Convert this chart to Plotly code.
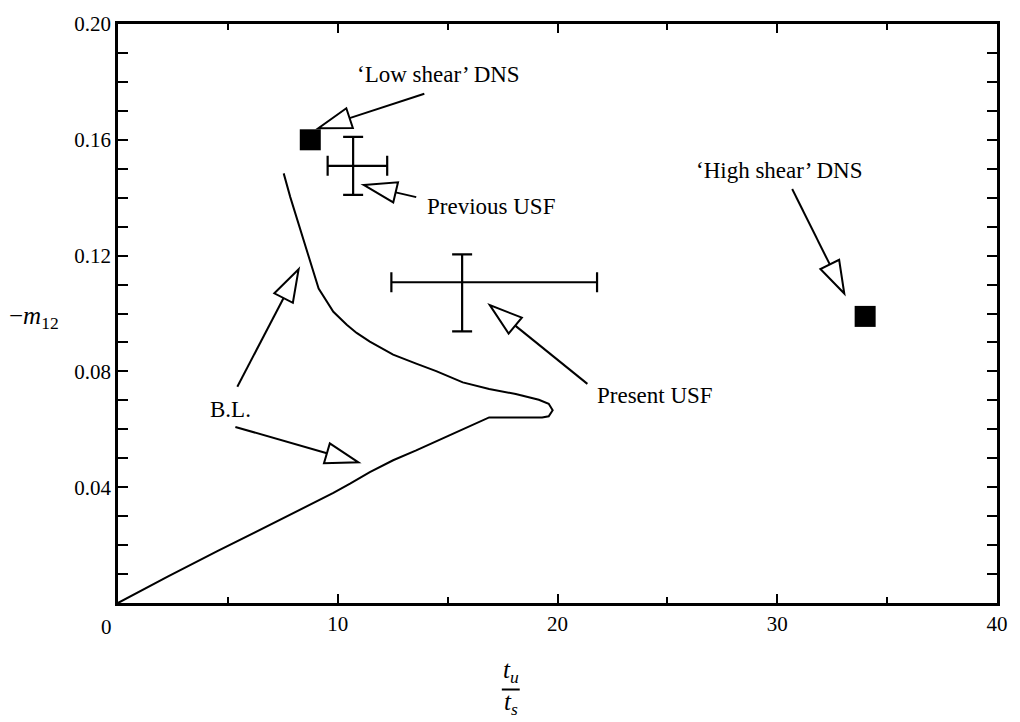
import math
import plotly.graph_objects as go

# ---------------- data ----------------
bl_x = [0.0, 2.26, 4.52, 6.03, 7.54, 8.75, 9.8, 10.56, 11.46, 12.52, 13.57, 15.08, 16.59, 16.89,
        18.1, 19.3, 19.6, 19.78, 19.6, 19.15, 18.1, 16.89, 15.69, 14.48, 13.57, 12.52, 11.46,
        10.86, 10.41, 9.8, 9.13, 8.67, 8.45, 8.22, 7.84, 7.54]
bl_y = [0.0, 0.0091, 0.0179, 0.0236, 0.0293, 0.0338, 0.0380, 0.0412, 0.0452, 0.0493, 0.0527, 0.0579, 0.0632, 0.0641,
        0.0641, 0.0641, 0.0645, 0.0666, 0.0688, 0.0702, 0.0722, 0.0739, 0.0762, 0.0801, 0.0827, 0.0858, 0.0903,
        0.0933, 0.0961, 0.1006, 0.1086, 0.1198, 0.1255, 0.1311, 0.1402, 0.1484]

dns_x = [8.75, 34.0]
dns_y = [0.160, 0.099]

usf_x = [10.7, 15.66]
usf_y = [0.151, 0.1108]
usf_x_minus = [1.16, 3.22]
usf_x_plus = [1.55, 6.14]
usf_y_minus = [0.010, 0.017]
usf_y_plus = [0.010, 0.0096]

x_tick_vals = [10, 20, 30, 40]
x_tick_text = ["10", "20", "30", "40"]
x_minor_vals = [5, 15, 25, 35]
y_tick_vals = [0.04, 0.08, 0.12, 0.16, 0.20]
y_tick_text = ["0.04", "0.08", "0.12", "0.16", "0.20"]
y_minor_vals = [0.01, 0.02, 0.03, 0.05, 0.06, 0.07, 0.09, 0.10, 0.11, 0.13, 0.14, 0.15, 0.17, 0.18, 0.19]

labels = ["\u2018Low shear\u2019 DNS", "Previous USF", "Present USF", "B.L.", "\u2018High shear\u2019 DNS"]
label_x = [14.57, 13.98, 21.72, 5.11, 30.11]
label_y = [0.1827, 0.1368, 0.0716, 0.0670, 0.1494]
label_anchor = ["center", "left", "left", "center", "center"]

# arrows: tail -> tip (data coordinates)
arrow_tail_x = [13.94, 13.57, 21.36, 5.43, 5.34, 30.68]
arrow_tail_y = [0.1759, 0.1402, 0.0757, 0.0747, 0.0608, 0.1430]
arrow_tip_x = [9.12, 11.18, 16.92, 8.22, 10.94, 33.05]
arrow_tip_y = [0.1640, 0.1444, 0.1029, 0.1153, 0.0486, 0.1069]

# ---------------- layout geometry ----------------
W, H = 1020, 722
ML, MR, MT, MB = 118, 18, 14, 119
XR = [0, 40]
YR = [0, 0.20]
PW, PH = W - ML - MR, H - MT - MB


def d2p(x, y):
    return (ML + (x - XR[0]) / (XR[1] - XR[0]) * PW,
            MT + PH - (y - YR[0]) / (YR[1] - YR[0]) * PH)


def p2d(px, py):
    return (XR[0] + (px - ML) / PW * (XR[1] - XR[0]),
            YR[0] + (MT + PH - py) / PH * (YR[1] - YR[0]))


def p2paper(px, py):
    return ((px - ML) / PW, (MT + PH - py) / PH)


FONT = "Liberation Serif"

fig = go.Figure()

fig.add_trace(go.Scatter(x=bl_x, y=bl_y, mode="lines",
                         line=dict(color="black", width=2), showlegend=False, hoverinfo="skip"))

fig.add_trace(go.Scatter(
    x=usf_x, y=usf_y, mode="markers", marker=dict(size=1, color="black"), showlegend=False,
    error_x=dict(type="data", symmetric=False, array=usf_x_plus, arrayminus=usf_x_minus,
                 color="black", thickness=2.2, width=10),
    error_y=dict(type="data", symmetric=False, array=usf_y_plus, arrayminus=usf_y_minus,
                 color="black", thickness=2.2, width=10),
))

fig.add_trace(go.Scatter(x=dns_x, y=dns_y, mode="markers",
                         marker=dict(symbol="square", size=21, color="black"), showlegend=False))

shapes = []
HEAD_LEN, HEAD_HALF = 33, 10.5
for tx, ty, hx, hy in zip(arrow_tail_x, arrow_tail_y, arrow_tip_x, arrow_tip_y):
    tpx, tpy = d2p(tx, ty)
    hpx, hpy = d2p(hx, hy)
    dx, dy = tpx - hpx, tpy - hpy
    L = math.hypot(dx, dy)
    ux, uy = dx / L, dy / L
    bx, by = hpx + ux * HEAD_LEN, hpy + uy * HEAD_LEN
    c1 = (bx - uy * HEAD_HALF, by + ux * HEAD_HALF)
    c2 = (bx + uy * HEAD_HALF, by - ux * HEAD_HALF)
    b_d = p2d(bx, by)
    shapes.append(dict(type="line", xref="x", yref="y", x0=tx, y0=ty, x1=b_d[0], y1=b_d[1],
                       line=dict(color="black", width=2)))
    pts = [p2d(hpx, hpy), p2d(*c1), p2d(*c2)]
    path = "M %f,%f L %f,%f L %f,%f Z" % (pts[0][0], pts[0][1], pts[1][0], pts[1][1], pts[2][0], pts[2][1])
    shapes.append(dict(type="path", xref="x", yref="y", path=path, fillcolor="white",
                       line=dict(color="black", width=2)))

# fraction bar of x-axis label
fx0, fy = p2paper(504, 691)
fx1, _ = p2paper(522, 691)
shapes.append(dict(type="line", xref="paper", yref="paper", x0=fx0, x1=fx1, y0=fy, y1=fy,
                   line=dict(color="black", width=2)))

annotations = []
for t, x, y, a in zip(labels, label_x, label_y, label_anchor):
    annotations.append(dict(text=t, x=x, y=y, xref="x", yref="y", showarrow=False,
                            xanchor=a, yanchor="middle", font=dict(family=FONT, size=23, color="black")))

# axis titles
yx, yy = p2paper(34, 313)
annotations.append(dict(text="\u2212<i>m</i><sub>12</sub>", x=yx, y=yy, xref="paper", yref="paper",
                        showarrow=False, xanchor="center", yanchor="middle",
                        font=dict(family=FONT, size=25, color="black")))
tx1, ty1 = p2paper(513, 673)
annotations.append(dict(text="<i>t</i><sub><i>u</i></sub>", x=tx1, y=ty1, xref="paper", yref="paper",
                        showarrow=False, xanchor="center", yanchor="middle",
                        font=dict(family=FONT, size=25, color="black")))
tx2, ty2 = p2paper(513, 705)
annotations.append(dict(text="<i>t</i><sub><i>s</i></sub>", x=tx2, y=ty2, xref="paper", yref="paper",
                        showarrow=False, xanchor="center", yanchor="middle",
                        font=dict(family=FONT, size=25, color="black")))
zx, zy = p2paper(106, 627)
annotations.append(dict(text="0", x=zx, y=zy, xref="paper", yref="paper", showarrow=False,
                        xanchor="center", yanchor="middle", font=dict(family=FONT, size=21, color="black")))

fig.update_layout(
    width=W, height=H,
    margin=dict(l=ML, r=MR, t=MT, b=MB, pad=0),
    plot_bgcolor="white", paper_bgcolor="white",
    font=dict(family=FONT, size=21, color="black"),
    shapes=shapes, annotations=annotations, showlegend=False,
    xaxis=dict(range=XR, tickvals=x_tick_vals, ticktext=x_tick_text, ticks="inside", ticklen=9,
               tickwidth=2, tickcolor="black", showline=True, linecolor="black", linewidth=2.5,
               mirror="allticks", showgrid=False, zeroline=False,
               minor=dict(tickvals=x_minor_vals, ticks="inside", ticklen=6, tickwidth=2, tickcolor="black"),
               tickfont=dict(family=FONT, size=21, color="black")),
    yaxis=dict(range=YR, tickvals=y_tick_vals, ticktext=y_tick_text, ticks="inside", ticklen=10,
               tickwidth=2, tickcolor="black", showline=True, linecolor="black", linewidth=2.5,
               mirror="allticks", showgrid=False, zeroline=False,
               minor=dict(tickvals=y_minor_vals, ticks="inside", ticklen=10, tickwidth=2, tickcolor="black"),
               tickfont=dict(family=FONT, size=21, color="black")),
)

fig.write_html("out.html")
